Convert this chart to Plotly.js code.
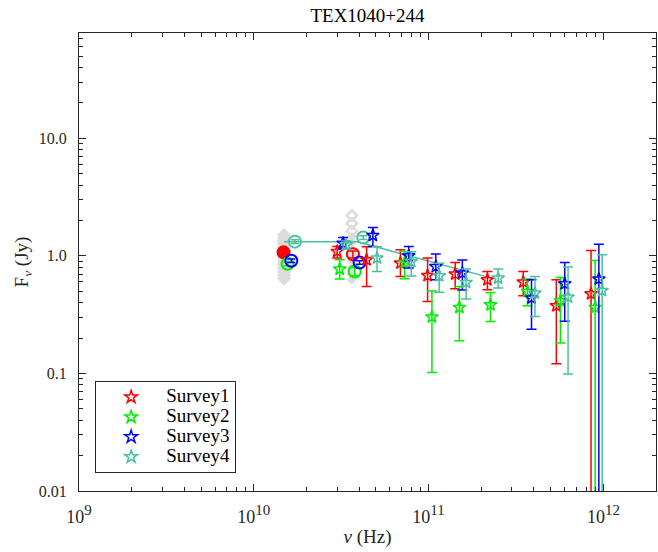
<!DOCTYPE html>
<html>
<head>
<meta charset="utf-8">
<script src="https://cdn.plot.ly/plotly-3.0.1.min.js"></script>
<style>html,body{margin:0;padding:0;background:#fff;}#chart{width:658px;height:552px;}</style>
</head>
<body>
<div id="chart"></div>
<script>
// ---- Data (frequency in Hz, flux density in Jy) ----
const surveyNames = ["Survey1", "Survey2", "Survey3", "Survey4"];
const surveyColors = ["#ff0000", "#00ee00", "#0000ff", "#4cbf9f"];

// Star markers (per survey)
const s1Nu = [3.0e10, 4.42e10, 6.9e10, 9.87e10, 1.42e11, 2.17e11, 3.48e11, 5.38e11, 8.5e11];
const s1F = [1.09, 0.925, 0.867, 0.68, 0.699, 0.625, 0.598, 0.376, 0.475];
const s1Plus = [0.11, 0.27, 0.257, 0.276, 0.178, 0.11, 0.138, 0.25, 0.635];
const s1Minus = [0.13, 0.377, 0.2, 0.271, 0.175, 0.11, 0.141, 0.255, 0.635];

const s2Nu = [3.10e10, 7.3e10, 1.045e11, 1.50e11, 2.26e11, 3.68e11, 5.68e11, 8.97e11];
const s2F = [0.77, 0.877, 0.302, 0.364, 0.383, 0.497, 0.415, 0.364];
const s2Plus = [0.155, 0.21, 0.2, 0.184, 0.105, 0.137, 0.24, 0.548];
const s2Minus = [0.136, 0.24, 0.2, 0.174, 0.107, 0.121, 0.234, 0.548];

const s3Nu = [3.24e10, 4.8e10, 7.7e10, 1.10e11, 1.56e11, 3.88e11, 6.01e11, 9.42e11];
const s3F = [1.28, 1.49, 1.0, 0.81, 0.713, 0.437, 0.578, 0.634];
const s3Plus = [0.15, 0.25, 0.2, 0.224, 0.21, 0.19, 0.3, 0.623];
const s3Minus = [0.133, 0.29, 0.214, 0.185, 0.2, 0.2, 0.3, 0.7];

const s4Nu = [3.38e10, 5.07e10, 7.96e10, 1.15e11, 1.64e11, 2.5e11, 4.06e11, 6.28e11, 9.84e11];
const s4F = [1.24, 0.956, 0.895, 0.676, 0.594, 0.646, 0.482, 0.446, 0.507];
const s4Plus = [0.1, 0.24, 0.19, 0.19, 0.177, 0.125, 0.185, 0.356, 0.513];
const s4Minus = [0.1, 0.22, 0.22, 0.185, 0.165, 0.114, 0.177, 0.347, 0.6];

// Circle markers (per survey)
const c1Nu = [1.48e10, 3.69e10];  const c1F = [1.07, 1.03];  const c1Err = [0.04, 0.07];
const c2Nu = [1.56e10, 3.78e10];  const c2F = [0.855, 0.736]; const c2Err = [0.03, 0.06];
const c3Nu = [1.64e10, 4.03e10];  const c3F = [0.908, 0.877]; const c3Err = [0.03, 0.03];
const c4Nu = [1.72e10, 4.23e10];  const c4F = [1.32, 1.43];   const c4Err = [0.05, 0.05];

// Grey archival points
const g1Nu = [1.49e10, 1.49e10, 1.49e10, 1.49e10, 1.49e10, 1.49e10, 1.49e10, 1.49e10,
              1.49e10, 1.49e10, 1.49e10, 1.49e10, 1.49e10, 1.49e10];
const g1F = [1.5, 1.42, 1.34, 1.26, 1.18, 1.1, 1.03, 0.96, 0.9, 0.84, 0.78, 0.73, 0.68, 0.64];
const g2NuOpen = [3.64e10, 3.64e10, 3.64e10];
const g2FOpen = [2.2, 1.88, 1.62];
const g2NuFill = [3.64e10, 3.64e10, 3.64e10, 3.64e10, 3.64e10, 3.64e10, 3.64e10, 3.64e10];
const g2FFill = [1.45, 1.3, 1.15, 1.02, 0.9, 0.8, 0.7, 0.63];

// Survey4 connecting curve
const lineNu = [1.49e10, 3.9e10, 2.3e11];
const lineF = [1.315, 1.315, 0.646];

// Axis tick labels
const supStyle = "font-size:15px";
const xTickVals = [1e9, 1e10, 1e11, 1e12];
const xTickText = ["10<sup><span style='" + supStyle + "'>9</span></sup>",
                   "10<sup><span style='" + supStyle + "'>10</span></sup>",
                   "10<sup><span style='" + supStyle + "'>11</span></sup>",
                   "10<sup><span style='" + supStyle + "'>12</span></sup>"];
const yTickVals = [0.01, 0.1, 1, 10];
const yTickText = ["0.01", "0.1", "1.0", "10.0"];

// ---- Traces ----
const grey = "#dcdcdc";
const traces = [];
traces.push({x: g1Nu, y: g1F, type: "scatter", mode: "markers", showlegend: false, hoverinfo: "skip",
  marker: {symbol: "diamond", size: 11, color: grey, line: {width: 0}}});
traces.push({x: g2NuFill, y: g2FFill, type: "scatter", mode: "markers", showlegend: false, hoverinfo: "skip",
  marker: {symbol: "diamond", size: 8, color: grey, line: {width: 0}}});
traces.push({x: g2NuOpen, y: g2FOpen, type: "scatter", mode: "markers", showlegend: false, hoverinfo: "skip",
  marker: {symbol: "diamond-open", size: 8, color: grey, line: {width: 2.5, color: grey}}});

traces.push({x: lineNu, y: lineF, type: "scatter", mode: "lines", showlegend: false,
  line: {color: surveyColors[3], width: 1.5}});

const circles = [[c1Nu, c1F, c1Err], [c2Nu, c2F, c2Err], [c3Nu, c3F, c3Err], [c4Nu, c4F, c4Err]];
circles.forEach(function (c, i) {
  traces.push({x: c[0], y: c[1], type: "scatter", mode: "markers", showlegend: false,
    error_y: {type: "data", array: c[2], color: surveyColors[i], thickness: 1.5, width: 4},
    marker: {symbol: i === 0 ? ["circle", "circle-open"] : "circle-open", size: 12, color: surveyColors[i],
      line: {width: 2, color: surveyColors[i]}}});
});

const stars = [[s1Nu, s1F, s1Plus, s1Minus], [s2Nu, s2F, s2Plus, s2Minus],
               [s3Nu, s3F, s3Plus, s3Minus], [s4Nu, s4F, s4Plus, s4Minus]];
stars.forEach(function (s, i) {
  traces.push({x: s[0], y: s[1], type: "scatter", mode: "markers",
    name: "<span style='font-size:19px'>" + surveyNames[i] + "</span>",
    error_y: {type: "data", symmetric: false, array: s[2], arrayminus: s[3],
      color: surveyColors[i], thickness: 1.5, width: 5},
    marker: {symbol: "star-open", size: 9.5, color: surveyColors[i], line: {width: 1.5, color: surveyColors[i]}}});
});

const fontFam = "'Liberation Serif', 'Times New Roman', Times, serif";
const axisCommon = {
  type: "log", showgrid: false, zeroline: false, showline: true, linecolor: "#262626", linewidth: 1,
  mirror: "allticks", ticks: "inside", ticklen: 7, tickcolor: "#262626", tickwidth: 1,
  tickfont: {family: fontFam, size: 16, color: "#262626"},
  minor: {ticks: "inside", ticklen: 4, dtick: "D1", tickcolor: "#262626", tickwidth: 1, showgrid: false}
};

const layout = {
  width: 658, height: 552,
  margin: {l: 79, r: 2, t: 33, b: 61},
  paper_bgcolor: "#ffffff", plot_bgcolor: "#ffffff",
  font: {family: fontFam, size: 16, color: "#262626"},
  title: {text: "TEX1040+244", font: {family: fontFam, size: 19, color: "#000"},
    xref: "paper", x: 0.5, xanchor: "center", yref: "container", y: 0.972, yanchor: "middle"},
  xaxis: Object.assign({}, axisCommon, {
    range: [9, Math.log10(2e12)], tickmode: "array", tickvals: xTickVals, ticktext: xTickText,
    ticklabelstandoff: 9, tickfont: {family: fontFam, size: 18, color: "#262626"},
    title: {text: "<i>ν</i> (Hz)", font: {family: fontFam, size: 19}, standoff: 4}
  }),
  yaxis: Object.assign({}, axisCommon, {
    range: [-2, 1.895], tickmode: "array", tickvals: yTickVals, ticktext: yTickText,
    ticklabelstandoff: 8,
    title: {text: "F<sub><i>ν</i></sub> (Jy)", font: {family: fontFam, size: 19}, standoff: 5}
  }),
  legend: {x: 0.028, y: 0.039, xanchor: "left", yanchor: "bottom", bgcolor: "#ffffff",
    bordercolor: "#262626", borderwidth: 1, itemwidth: 60,
    font: {family: fontFam, size: 13, color: "#000"}, tracegroupgap: 0},
  showlegend: true
};

Plotly.newPlot("chart", traces, layout, {displayModeBar: false, staticPlot: true});
</script>
</body>
</html>
